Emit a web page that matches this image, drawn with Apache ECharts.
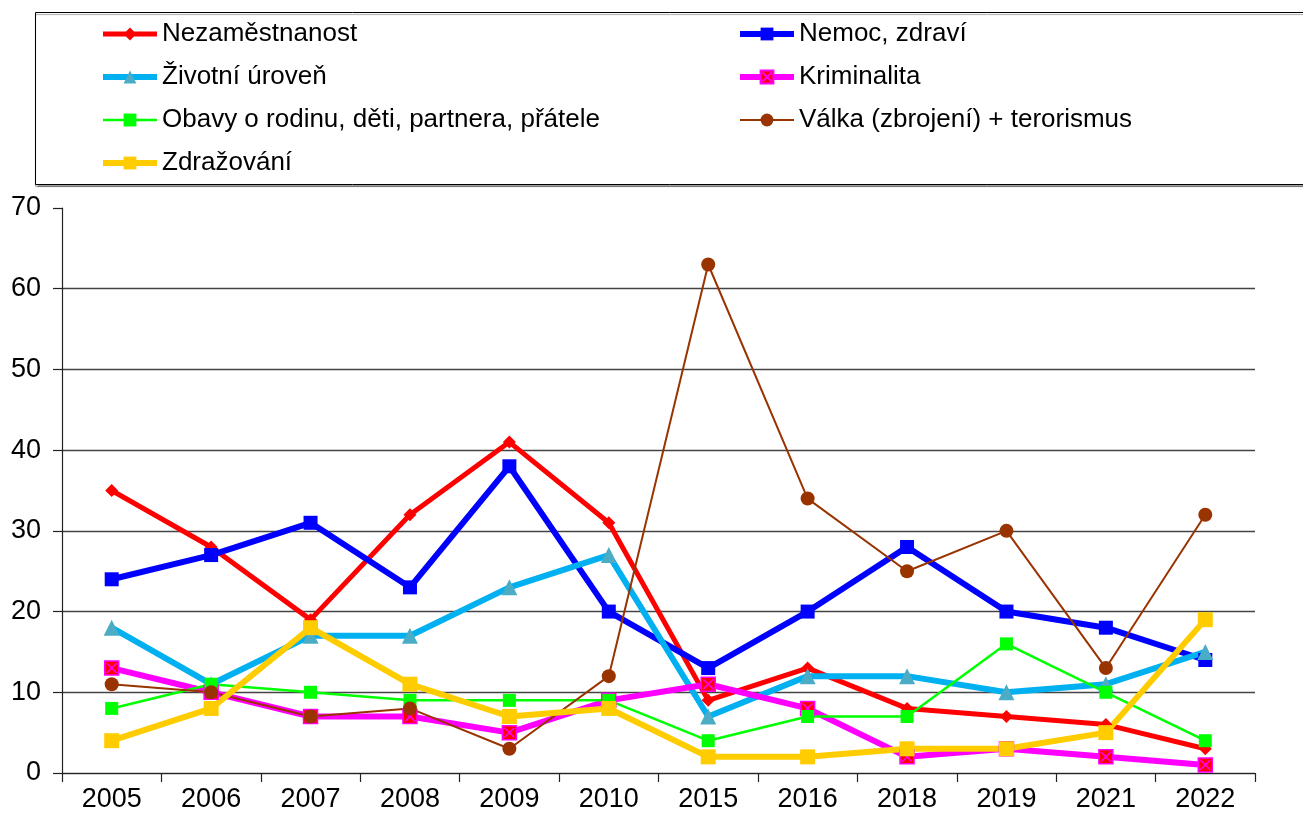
<!DOCTYPE html>
<html>
<head>
<meta charset="utf-8">
<script src="https://cdn.jsdelivr.net/npm/echarts@6/dist/echarts.min.js"></script>
<style>
  html, body { margin: 0; padding: 0; background: #fff; }
  #chart { width: 1303px; height: 816px; }
</style>
</head>
<body>
<div id="chart"></div>
<script>
// chart data
const years = ["2005", "2006", "2007", "2008", "2009", "2010", "2015", "2016", "2018", "2019", "2021", "2022"];
const nezamestnanost = [35, 28, 19, 32, 41, 31, 9, 13, 8, 7, 6, 3];
const nemoc = [24, 27, 31, 23, 38, 20, 13, 20, 28, 20, 18, 14];
const zivotniUroven = [18, 11, 17, 17, 23, 27, 7, 12, 12, 10, 11, 15];
const kriminalita = [13, 10, 7, 7, 5, 9, 11, 8, 2, 3, 2, 1];
const obavy = [8, 11, 10, 9, 9, 9, 4, 7, 7, 16, 10, 4];
const valka = [11, 10, 7, 8, 3, 12, 63, 34, 25, 30, 13, 32];
const zdrazovani = [4, 8, 18, 11, 7, 8, 2, 2, 3, 3, 5, 19];

const FONT = "'Liberation Sans', Arial, sans-serif";
const crossSquare = "path://M0,0L10,0L10,10L0,10Z M1.5,1.5L8.5,8.5 M8.5,1.5L1.5,8.5";

const chart = echarts.init(document.getElementById("chart"));

const legendCommon = {
  orient: "vertical",
  itemWidth: 54,
  itemHeight: 16,
  itemGap: 13,
  padding: 0,
  textStyle: { fontFamily: FONT, fontSize: 26, color: "#000", lineHeight: 30 },
};

// series styles
const styles = {
  "Nezaměstnanost": { line: "#FF0000", width: 5, sym: "diamond", size: 13, fill: "#FF0000" },
  "Nemoc, zdraví": { line: "#0000FF", width: 6, sym: "rect", size: 14, fill: "#0000FF" },
  "Životní úroveň": { line: "#00B0F0", width: 6, sym: "triangle", size: 16, fill: "#4BACC6" },
  "Kriminalita": { line: "#FF00FF", width: 6, sym: crossSquare, size: 14, fill: "#FF0000", border: "#FF00FF" },
  "Obavy o rodinu, děti, partnera, přátele": { line: "#00FF00", width: 2.5, sym: "rect", size: 13, fill: "#00FF00" },
  "Válka (zbrojení) + terorismus": { line: "#993300", width: 2, sym: "circle", size: 14, fill: "#993300" },
  "Zdražování": { line: "#FFCC00", width: 6, sym: "rect", size: 15, fill: "#FFCC00" },
};

function legendItem(name) {
  return { name: name, lineStyle: { width: styles[name].width } };
}

function lineSeries(name, data) {
  const s = styles[name];
  return {
    name: name, type: "line", data: data,
    symbol: s.sym, symbolSize: s.size,
    lineStyle: { color: s.line, width: s.width },
    itemStyle: s.border
      ? { color: s.fill, borderColor: s.border, borderWidth: 1.5 }
      : { color: s.fill },
  };
}

chart.setOption({
  animation: false,
  textStyle: { fontFamily: FONT },
  graphic: [
    {
      type: "rect",
      left: 35,
      top: 12,
      shape: { width: 1300, height: 172 },
      style: { fill: "#fff", stroke: "#000", lineWidth: 1, shadowColor: "rgba(0,0,0,0.35)", shadowOffsetY: 2, shadowBlur: 1 },
      z: -1,
    },
  ],
  legend: [
    Object.assign({}, legendCommon, {
      left: 100, top: 19,
      data: ["Nezaměstnanost", "Životní úroveň", "Obavy o rodinu, děti, partnera, přátele", "Zdražování"].map(legendItem),
    }),
    Object.assign({}, legendCommon, {
      left: 737, top: 19,
      data: ["Nemoc, zdraví", "Kriminalita", "Válka (zbrojení) + terorismus"].map(legendItem),
    }),
  ],
  grid: { left: 62, right: 48, top: 208, bottom: 43, containLabel: false },
  xAxis: {
    type: "category",
    data: years,
    boundaryGap: true,
    axisLine: { lineStyle: { color: "#222", width: 1.2 } },
    axisTick: { show: true, interval: 0, length: 9, lineStyle: { color: "#222", width: 1.2 } },
    axisLabel: { interval: 0, fontSize: 27, color: "#000", margin: 13, fontFamily: FONT },
    splitLine: { show: false },
  },
  yAxis: {
    type: "value",
    min: 0,
    max: 70,
    interval: 10,
    axisLine: { show: true, lineStyle: { color: "#222", width: 1.2 } },
    axisTick: { show: true, length: 9, lineStyle: { color: "#222", width: 1.2 } },
    axisLabel: { fontSize: 27, color: "#000", margin: 21, fontFamily: FONT },
    splitLine: {
      show: true,
      lineStyle: {
        color: ["#444", "#444", "#444", "#444", "#444", "#444", "#444", "rgba(0,0,0,0)"],
        width: 1.3,
      },
    },
  },
  series: [
    lineSeries("Nezaměstnanost", nezamestnanost),
    lineSeries("Nemoc, zdraví", nemoc),
    lineSeries("Životní úroveň", zivotniUroven),
    lineSeries("Kriminalita", kriminalita),
    lineSeries("Obavy o rodinu, děti, partnera, přátele", obavy),
    lineSeries("Válka (zbrojení) + terorismus", valka),
    lineSeries("Zdražování", zdrazovani),
  ],
});
</script>
</body>
</html>
